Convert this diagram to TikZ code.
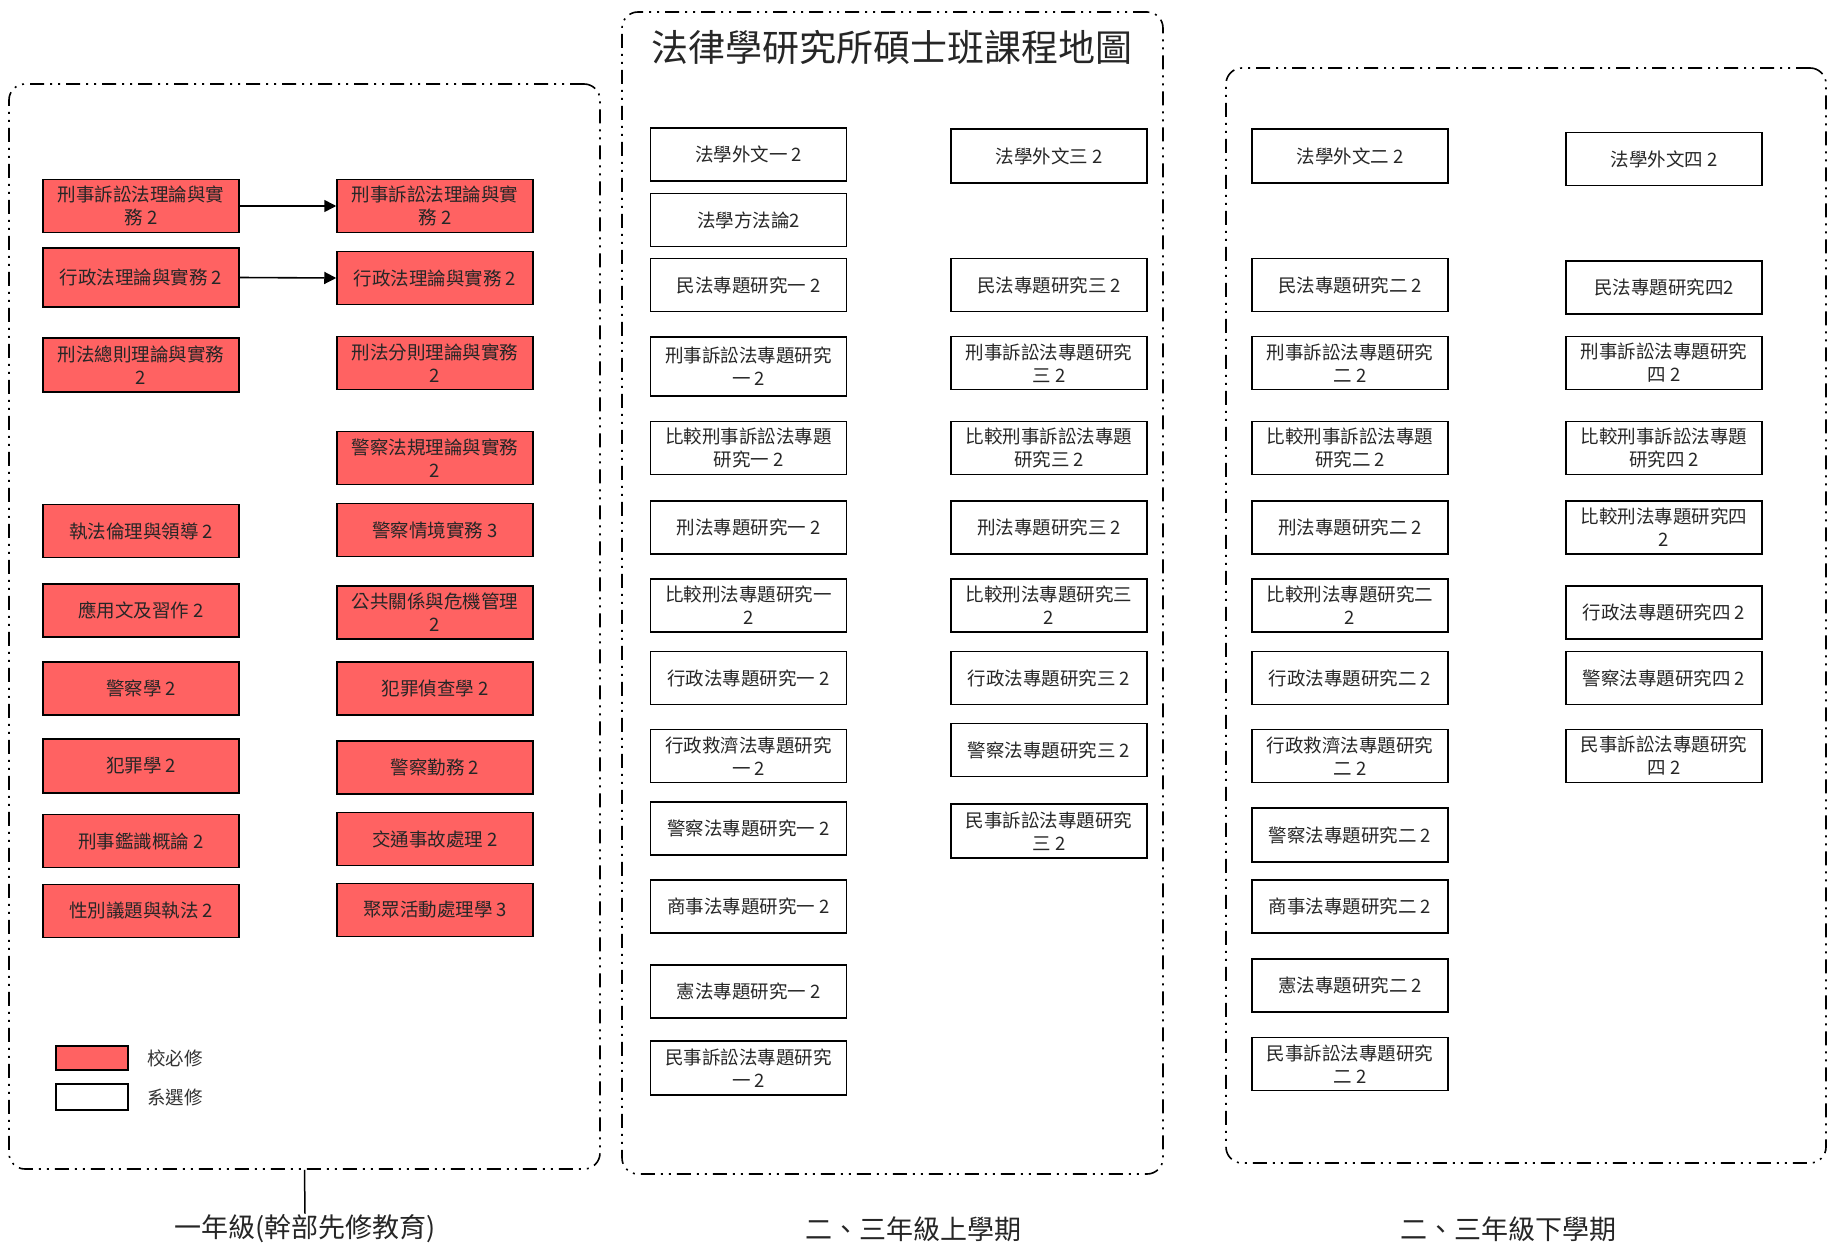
\documentclass[tikz,border=0pt]{standalone}
\usepackage{fontspec}
\setmainfont{Noto Sans CJK TC}
\usetikzlibrary{arrows.meta}
\definecolor{reqred}{RGB}{255,98,98}
\tikzset{
  course/.style={draw=black, line width=1.5pt, minimum width=196pt, minimum height=53pt,
    inner sep=0pt, align=center, text=black!85, font=\fontsize{18.5}{23}\selectfont},
  redcourse/.style={course, fill=reqred},
  frame/.style={draw=black, line width=1.6pt, rounded corners=16pt,
    dash pattern=on 14pt off 6pt on 2pt off 6pt on 2pt off 6pt, inner sep=0pt},
  arr/.style={line width=1.6pt, -{Triangle[length=12pt,width=12pt]}},
  lbl/.style={inner sep=1pt, font=\fontsize{27}{30}\selectfont, text=black!85},
  legtxt/.style={anchor=west, inner sep=0pt, font=\fontsize{18.5}{22}\selectfont, text=black!80},
}
\begin{document}
\begin{tikzpicture}[x=1pt,y=-1pt]
\useasboundingbox (0,0) rectangle (1828,1247);
% frames
\node[frame, minimum width=591pt, minimum height=1085pt] (f1) at (304.5,626.5) {};
\node[frame, minimum width=541pt, minimum height=1162pt] (f2) at (892.5,593) {};
\node[frame, minimum width=600pt, minimum height=1095pt] (f3) at (1526,615.5) {};
% title
\node[inner sep=0pt, font=\fontsize{37}{40}\selectfont, text=black!85] (title) at (892,47) {法律學研究所碩士班課程地圖};
% bottom labels
\node[lbl] (l1) at (305,1229) {一年級(幹部先修教育)};
\node[lbl] (l2) at (913,1229) {二、三年級上學期};
\node[lbl] (l3) at (1508,1229) {二、三年級下學期};
\draw[line width=1.5pt] (f1.south) -- (l1.north);
% year 1 (red)
\node[redcourse] (a1) at (141,206) {刑事訴訟法理論與實\\務 2};
\node[redcourse] (b1) at (435,206) {刑事訴訟法理論與實\\務 2};
\node[redcourse, minimum height=59pt] (a2) at (141,277.5) {行政法理論與實務 2};
\node[redcourse] (b2) at (435,278) {行政法理論與實務 2};
\node[redcourse, minimum height=54pt] (a3) at (141,365) {刑法總則理論與實務\\2};
\node[redcourse] (b3) at (435,363) {刑法分則理論與實務\\2};
\node[redcourse] (b4) at (435,458) {警察法規理論與實務\\2};
\node[redcourse] (a5) at (141,531) {執法倫理與領導 2};
\node[redcourse] (b5) at (435,530) {警察情境實務 3};
\node[redcourse] (a6) at (141,610.5) {應用文及習作 2};
\node[redcourse] (b6) at (435,612.5) {公共關係與危機管理\\2};
\node[redcourse] (a7) at (141,688.5) {警察學 2};
\node[redcourse] (b7) at (435,688.5) {犯罪偵查學 2};
\node[redcourse, minimum height=54pt] (a8) at (141,766) {犯罪學 2};
\node[redcourse] (b8) at (435,767.5) {警察勤務 2};
\node[redcourse] (a9) at (141,841) {刑事鑑識概論 2};
\node[redcourse] (b9) at (435,839) {交通事故處理 2};
\node[redcourse] (a10) at (141,911) {性別議題與執法 2};
\node[redcourse] (b10) at (435,910) {聚眾活動處理學 3};
\draw[arr] (a1.east) -- (b1.west);
\draw[arr] (a2.east) -- (b2.west);
% legend
\node[draw=black, line width=1.5pt, fill=reqred, minimum width=72pt, minimum height=24pt, inner sep=0pt] (lg1) at (92,1058) {};
\node[draw=black, line width=1.5pt, fill=white, minimum width=72pt, minimum height=26pt, inner sep=0pt] (lg2) at (92,1097) {};
\node[legtxt] (lt1) at (147,1058) {校必修};
\node[legtxt] (lt2) at (147,1097) {系選修};
% middle left column
\node[course] (m1) at (748.5,154.5) {法學外文一 2};
\node[course] (m2) at (748.5,220) {法學方法論2};
\node[course] (m3) at (748.5,285) {民法專題研究一 2};
\node[course, minimum height=59pt] (m4) at (748.5,366.5) {刑事訴訟法專題研究\\一 2};
\node[course] (m5) at (748.5,448) {比較刑事訴訟法專題\\研究一 2};
\node[course] (m6) at (748.5,527.5) {刑法專題研究一 2};
\node[course] (m7) at (748.5,605.5) {比較刑法專題研究一\\2};
\node[course] (m8) at (748.5,678) {行政法專題研究一 2};
\node[course] (m9) at (748.5,756) {行政救濟法專題研究\\一 2};
\node[course] (m10) at (748.5,828.5) {警察法專題研究一 2};
\node[course] (m11) at (748.5,906.5) {商事法專題研究一 2};
\node[course] (m12) at (748.5,991.5) {憲法專題研究一 2};
\node[course, minimum height=54pt] (m13) at (748.5,1068) {民事訴訟法專題研究\\一 2};
% middle right column
\node[course, minimum height=54pt] (n1) at (1049,156) {法學外文三 2};
\node[course] (n3) at (1049,285) {民法專題研究三 2};
\node[course] (n4) at (1049,363) {刑事訴訟法專題研究\\三 2};
\node[course] (n5) at (1049,448) {比較刑事訴訟法專題\\研究三 2};
\node[course] (n6) at (1049,527.5) {刑法專題研究三 2};
\node[course] (n7) at (1049,605.5) {比較刑法專題研究三\\2};
\node[course] (n8) at (1049,678) {行政法專題研究三 2};
\node[course] (n9) at (1049,750) {警察法專題研究三 2};
\node[course, minimum height=54pt] (n10) at (1049,831) {民事訴訟法專題研究\\三 2};
% right frame, left column
\node[course, minimum height=54pt] (r1) at (1350,156) {法學外文二 2};
\node[course] (r3) at (1350,285) {民法專題研究二 2};
\node[course] (r4) at (1350,363) {刑事訴訟法專題研究\\二 2};
\node[course] (r5) at (1350,448) {比較刑事訴訟法專題\\研究二 2};
\node[course] (r6) at (1350,527.5) {刑法專題研究二 2};
\node[course] (r7) at (1350,605.5) {比較刑法專題研究二\\2};
\node[course] (r8) at (1350,678) {行政法專題研究二 2};
\node[course] (r9) at (1350,756) {行政救濟法專題研究\\二 2};
\node[course, minimum height=54pt] (r10) at (1350,835) {警察法專題研究二 2};
\node[course] (r11) at (1350,906.5) {商事法專題研究二 2};
\node[course] (r12) at (1350,985.5) {憲法專題研究二 2};
\node[course] (r13) at (1350,1064) {民事訴訟法專題研究\\二 2};
% right frame, right column
\node[course] (s1) at (1664,159) {法學外文四 2};
\node[course] (s3) at (1664,287.5) {民法專題研究四2};
\node[course] (s4) at (1664,363) {刑事訴訟法專題研究\\四 2};
\node[course] (s5) at (1664,448) {比較刑事訴訟法專題\\研究四 2};
\node[course] (s6) at (1664,527.5) {比較刑法專題研究四\\2};
\node[course] (s7) at (1664,612.5) {行政法專題研究四 2};
\node[course] (s8) at (1664,678) {警察法專題研究四 2};
\node[course] (s9) at (1664,756) {民事訴訟法專題研究\\四 2};
\end{tikzpicture}
\end{document}
